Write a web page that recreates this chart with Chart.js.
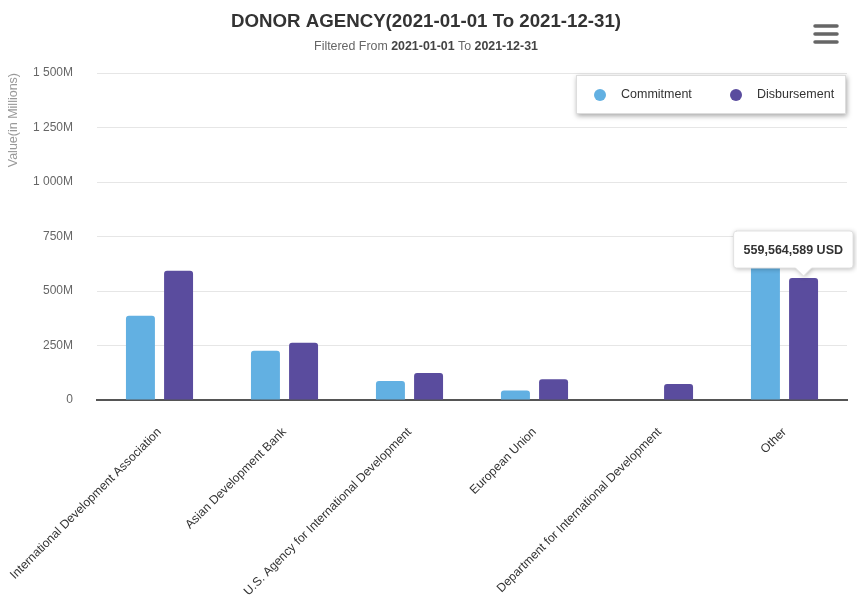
<!DOCTYPE html>
<html>
<head>
<meta charset="utf-8">
<script src="https://cdn.jsdelivr.net/npm/chart.js@4"></script>
<style>
  html, body { margin: 0; padding: 0; background: #fff; }
  #wrap { width: 857px; height: 604px; position: relative; }
</style>
</head>
<body>
<div id="wrap"><canvas id="c" width="857" height="604"></canvas></div>
<script>
const categories = [
  'International Development Association',
  'Asian Development Bank',
  'U.S. Agency for International Development',
  'European Union',
  'Department for International Development',
  'Other'
];
const commitment = [386, 226, 87, 44, 0, 690];
const disbursement = [593, 263, 124, 95, 73, 559.564589];
const yTicks = [0, 250, 500, 750, 1000, 1250, 1500];
const seriesNames = ['Commitment', 'Disbursement'];
const seriesColors = ['#62b0e2', '#5a4c9e'];
const titleText = 'DONOR AGENCY(2021-01-01 To 2021-12-31)';
const subtitleParts = [['Filtered From ', false], ['2021-01-01', true], [' To ', false], ['2021-12-31', true]];
const yTitle = 'Value(in Millions)';
const tooltipPoint = { series: 1, index: 5 };

const FONT = '"Liberation Sans", Arial, Helvetica, sans-serif';

function fmtTick(v) {
  if (v === 0) return '0';
  return String(v).replace(/\B(?=(\d{3})+(?!\d))/g, ' ') + 'M';
}
function fmtUSD(v) {
  return Math.round(v * 1e6).toLocaleString('en-US') + ' USD';
}

const decorPlugin = {
  id: 'decor',
  afterDraw(chart) {
    const ctx = chart.ctx;
    ctx.save();
    // Title
    ctx.fillStyle = '#333333';
    ctx.font = 'bold 18.7px ' + FONT;
    ctx.textAlign = 'center';
    ctx.textBaseline = 'middle';
    ctx.fillText(titleText, 426, 21.5);
    // Subtitle (mixed weight)
    const widths = subtitleParts.map(([t, b]) => {
      ctx.font = (b ? 'bold ' : '') + '12.4px ' + FONT;
      return ctx.measureText(t).width;
    });
    const total = widths.reduce((a, b) => a + b, 0);
    let x = 426 - total / 2;
    ctx.textAlign = 'left';
    subtitleParts.forEach(([t, b], i) => {
      ctx.font = (b ? 'bold ' : '') + '12.4px ' + FONT;
      ctx.fillStyle = b ? '#444444' : '#666666';
      ctx.fillText(t, x, 46.5);
      x += widths[i];
    });
    // Hamburger menu icon
    ctx.strokeStyle = '#666666';
    ctx.lineWidth = 3.5;
    ctx.lineCap = 'round';
    [26, 34, 42].forEach(y => {
      ctx.beginPath();
      ctx.moveTo(815, y);
      ctx.lineTo(837, y);
      ctx.stroke();
    });
    // Legend box
    ctx.shadowColor = 'rgba(0,0,0,0.35)';
    ctx.shadowBlur = 5;
    ctx.shadowOffsetX = 1;
    ctx.shadowOffsetY = 2;
    ctx.fillStyle = '#ffffff';
    ctx.fillRect(576, 75, 270, 39);
    ctx.shadowColor = 'transparent';
    ctx.strokeStyle = '#dddddd';
    ctx.lineWidth = 1;
    ctx.strokeRect(576.5, 75.5, 269, 38);
    const items = [[600, 621], [736, 757]];
    ctx.font = '12.5px ' + FONT;
    ctx.textBaseline = 'middle';
    items.forEach(([cx, tx], i) => {
      ctx.fillStyle = seriesColors[i];
      ctx.beginPath();
      ctx.arc(cx, 95, 6, 0, Math.PI * 2);
      ctx.fill();
      ctx.fillStyle = '#333333';
      ctx.fillText(seriesNames[i], tx, 95);
    });

    // Tooltip anchored on the bar element computed by Chart.js
    const el = chart.getDatasetMeta(tooltipPoint.series).data[tooltipPoint.index];
    const value = chart.data.datasets[tooltipPoint.series].data[tooltipPoint.index];
    const text = fmtUSD(value);
    ctx.font = 'bold 12.5px ' + FONT;
    const tw = ctx.measureText(text).width;
    const w = tw + 20, h = 37, caret = 8;
    const tipX = el.x, tipY = el.y - 2;
    const bottom = tipY - caret;
    const top = bottom - h;
    let left = Math.max(0, Math.min(tipX - w / 2, chart.width - w - 4));
    const right = left + w, r = 3;
    ctx.beginPath();
    ctx.moveTo(left + r, top);
    ctx.lineTo(right - r, top);
    ctx.quadraticCurveTo(right, top, right, top + r);
    ctx.lineTo(right, bottom - r);
    ctx.quadraticCurveTo(right, bottom, right - r, bottom);
    ctx.lineTo(tipX + caret, bottom);
    ctx.lineTo(tipX, tipY);
    ctx.lineTo(tipX - caret, bottom);
    ctx.lineTo(left + r, bottom);
    ctx.quadraticCurveTo(left, bottom, left, bottom - r);
    ctx.lineTo(left, top + r);
    ctx.quadraticCurveTo(left, top, left + r, top);
    ctx.closePath();
    ctx.shadowColor = 'rgba(0,0,0,0.3)';
    ctx.shadowBlur = 5;
    ctx.shadowOffsetX = 1;
    ctx.shadowOffsetY = 1;
    ctx.fillStyle = '#ffffff';
    ctx.fill();
    ctx.shadowColor = 'transparent';
    ctx.strokeStyle = '#e2e2e2';
    ctx.lineWidth = 1;
    ctx.stroke();
    ctx.fillStyle = '#333333';
    ctx.textAlign = 'center';
    ctx.textBaseline = 'middle';
    ctx.fillText(text, left + w / 2, top + h / 2 + 1);
    ctx.restore();
  }
};

const chart = new Chart(document.getElementById('c'), {
  type: 'bar',
  data: {
    labels: categories,
    datasets: [
      {
        label: seriesNames[0],
        data: commitment,
        backgroundColor: seriesColors[0],
        hoverBackgroundColor: seriesColors[0],
        borderRadius: 3,
        borderSkipped: 'bottom',
        categoryPercentage: 0.61,
        barPercentage: 0.76
      },
      {
        label: seriesNames[1],
        data: disbursement,
        backgroundColor: seriesColors[1],
        hoverBackgroundColor: seriesColors[1],
        borderRadius: 3,
        borderSkipped: 'bottom',
        categoryPercentage: 0.61,
        barPercentage: 0.76
      }
    ]
  },
  options: {
    responsive: false,
    animation: false,
    events: [],
    layout: { padding: { top: 73, right: 10, left: 0, bottom: 0 } },
    plugins: {
      legend: { display: false },
      title: { display: false },
      tooltip: { enabled: false }
    },
    scales: {
      x: {
        grid: { display: false, drawTicks: false },
        border: { display: true, color: '#555555', width: 2 },
        ticks: {
          autoSkip: false,
          minRotation: 45,
          maxRotation: 45,
          padding: 25,
          color: '#333333',
          font: { family: FONT, size: 12.2 }
        },
        afterFit(scale) {
          scale.height = 204;
          scale.paddingLeft = 0;
          scale.paddingRight = 0;
        }
      },
      y: {
        min: 0,
        max: 1500,
        afterBuildTicks(scale) { scale.ticks = yTicks.map(v => ({ value: v })); },
        grid: { color: '#e6e6e6', lineWidth: 1, drawTicks: false },
        border: { display: false },
        ticks: {
          padding: 24,
          color: '#666666',
          font: { family: FONT, size: 12 },
          callback: (v) => fmtTick(v)
        },
        title: {
          display: true,
          text: yTitle,
          align: 'end',
          color: '#999999',
          font: { family: FONT, size: 12.5 },
          padding: { top: 6, bottom: 0 }
        },
        afterFit(scale) { scale.width = 97; }
      }
    }
  },
  plugins: [decorPlugin]
});
</script>
</body>
</html>
